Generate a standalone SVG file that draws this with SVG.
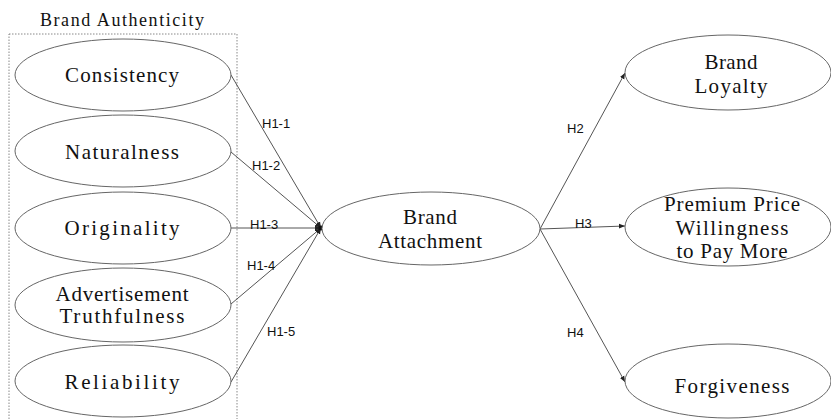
<svg xmlns="http://www.w3.org/2000/svg" width="831" height="419" viewBox="0 0 831 419">
<defs>
<marker id="arr" viewBox="0 0 10 10" refX="10" refY="5" markerWidth="6" markerHeight="6" markerUnits="userSpaceOnUse" orient="auto">
<path d="M0,1 L10,5 L0,9 z" fill="#222"/>
</marker>
</defs>
<style>
.bg{fill:#ffffff}
.box{fill:none;stroke:#888;stroke-width:1;stroke-dasharray:1.5,1.5}
.el{fill:#ffffff;stroke:#666;stroke-width:1}
.t{font-family:"Liberation Serif","Times New Roman",serif;font-size:21px;fill:#111;text-anchor:middle}
.tt{font-family:"Liberation Serif","Times New Roman",serif;font-size:18px;fill:#111;text-anchor:middle}
.c{fill:none;stroke:#555;stroke-width:1;marker-end:url(#arr)}
.h{font-family:"Liberation Sans",Arial,sans-serif;font-size:13px;fill:#111}
</style>
<rect class="bg" x="0" y="0" width="831" height="419"/>
<g id="brand-authenticity">
<rect class="box" x="9" y="34" width="228" height="386"/>
<text class="tt" x="122" y="26" textLength="164" lengthAdjust="spacing">Brand Authenticity</text>
</g>
<g id="connectors">
<line class="c" x1="231" y1="75" x2="321" y2="228"/>
<line class="c" x1="231" y1="152" x2="321" y2="228"/>
<line class="c" x1="231" y1="228" x2="321" y2="228"/>
<line class="c" x1="231" y1="304" x2="321" y2="228"/>
<line class="c" x1="231" y1="382" x2="321" y2="228"/>
<circle cx="321" cy="228" r="2.5" fill="#111"/>
<line class="c" x1="540" y1="229" x2="625" y2="73"/>
<line class="c" x1="540" y1="229" x2="625" y2="226"/>
<line class="c" x1="540" y1="229" x2="625" y2="382"/>
<text class="h" x="262" y="128">H1-1</text>
<text class="h" x="252" y="170">H1-2</text>
<text class="h" x="250" y="229">H1-3</text>
<text class="h" x="247" y="270">H1-4</text>
<text class="h" x="267" y="336">H1-5</text>
<text class="h" x="567" y="133">H2</text>
<text class="h" x="575" y="228">H3</text>
<text class="h" x="567" y="337">H4</text>
</g>
<g id="consistency">
<ellipse class="el" cx="123" cy="75" rx="108" ry="36"/>
<text class="t" x="122" y="82" textLength="114" lengthAdjust="spacing">Consistency</text>
</g>
<g id="naturalness">
<ellipse class="el" cx="123" cy="151" rx="108" ry="36"/>
<text class="t" x="122" y="159" textLength="114" lengthAdjust="spacing">Naturalness</text>
</g>
<g id="originality">
<ellipse class="el" cx="123" cy="228" rx="108" ry="36"/>
<text class="t" x="122" y="235" textLength="115" lengthAdjust="spacing">Originality</text>
</g>
<g id="advertisement-truthfulness">
<ellipse class="el" cx="123" cy="305" rx="108" ry="37"/>
<text class="t"><tspan x="122" y="301" textLength="133" lengthAdjust="spacing">Advertisement</tspan><tspan x="122" y="323" textLength="125" lengthAdjust="spacing">Truthfulness</tspan></text>
</g>
<g id="reliability">
<ellipse class="el" cx="123" cy="381" rx="108" ry="36"/>
<text class="t" x="122" y="389" textLength="115" lengthAdjust="spacing">Reliability</text>
</g>
<g id="brand-attachment">
<ellipse class="el" cx="431" cy="228.5" rx="109" ry="36.5"/>
<text class="t"><tspan x="430" y="224" textLength="54" lengthAdjust="spacing">Brand</tspan><tspan x="430" y="248" textLength="104" lengthAdjust="spacing">Attachment</tspan></text>
</g>
<g id="brand-loyalty">
<ellipse class="el" cx="728" cy="72.5" rx="103" ry="37.5"/>
<text class="t"><tspan x="731" y="69" textLength="53" lengthAdjust="spacing">Brand</tspan><tspan x="731" y="92.5" textLength="73" lengthAdjust="spacing">Loyalty</tspan></text>
</g>
<g id="premium-price">
<ellipse class="el" cx="728" cy="227" rx="103" ry="39"/>
<text class="t"><tspan x="732" y="211" textLength="136" lengthAdjust="spacing">Premium Price</tspan><tspan x="732" y="234.5" textLength="113" lengthAdjust="spacing">Willingness</tspan><tspan x="732" y="258" textLength="111" lengthAdjust="spacing">to Pay More</tspan></text>
</g>
<g id="forgiveness">
<ellipse class="el" cx="728" cy="381" rx="103" ry="37"/>
<text class="t" x="732" y="393" textLength="115" lengthAdjust="spacing">Forgiveness</text>
</g>
</svg>
